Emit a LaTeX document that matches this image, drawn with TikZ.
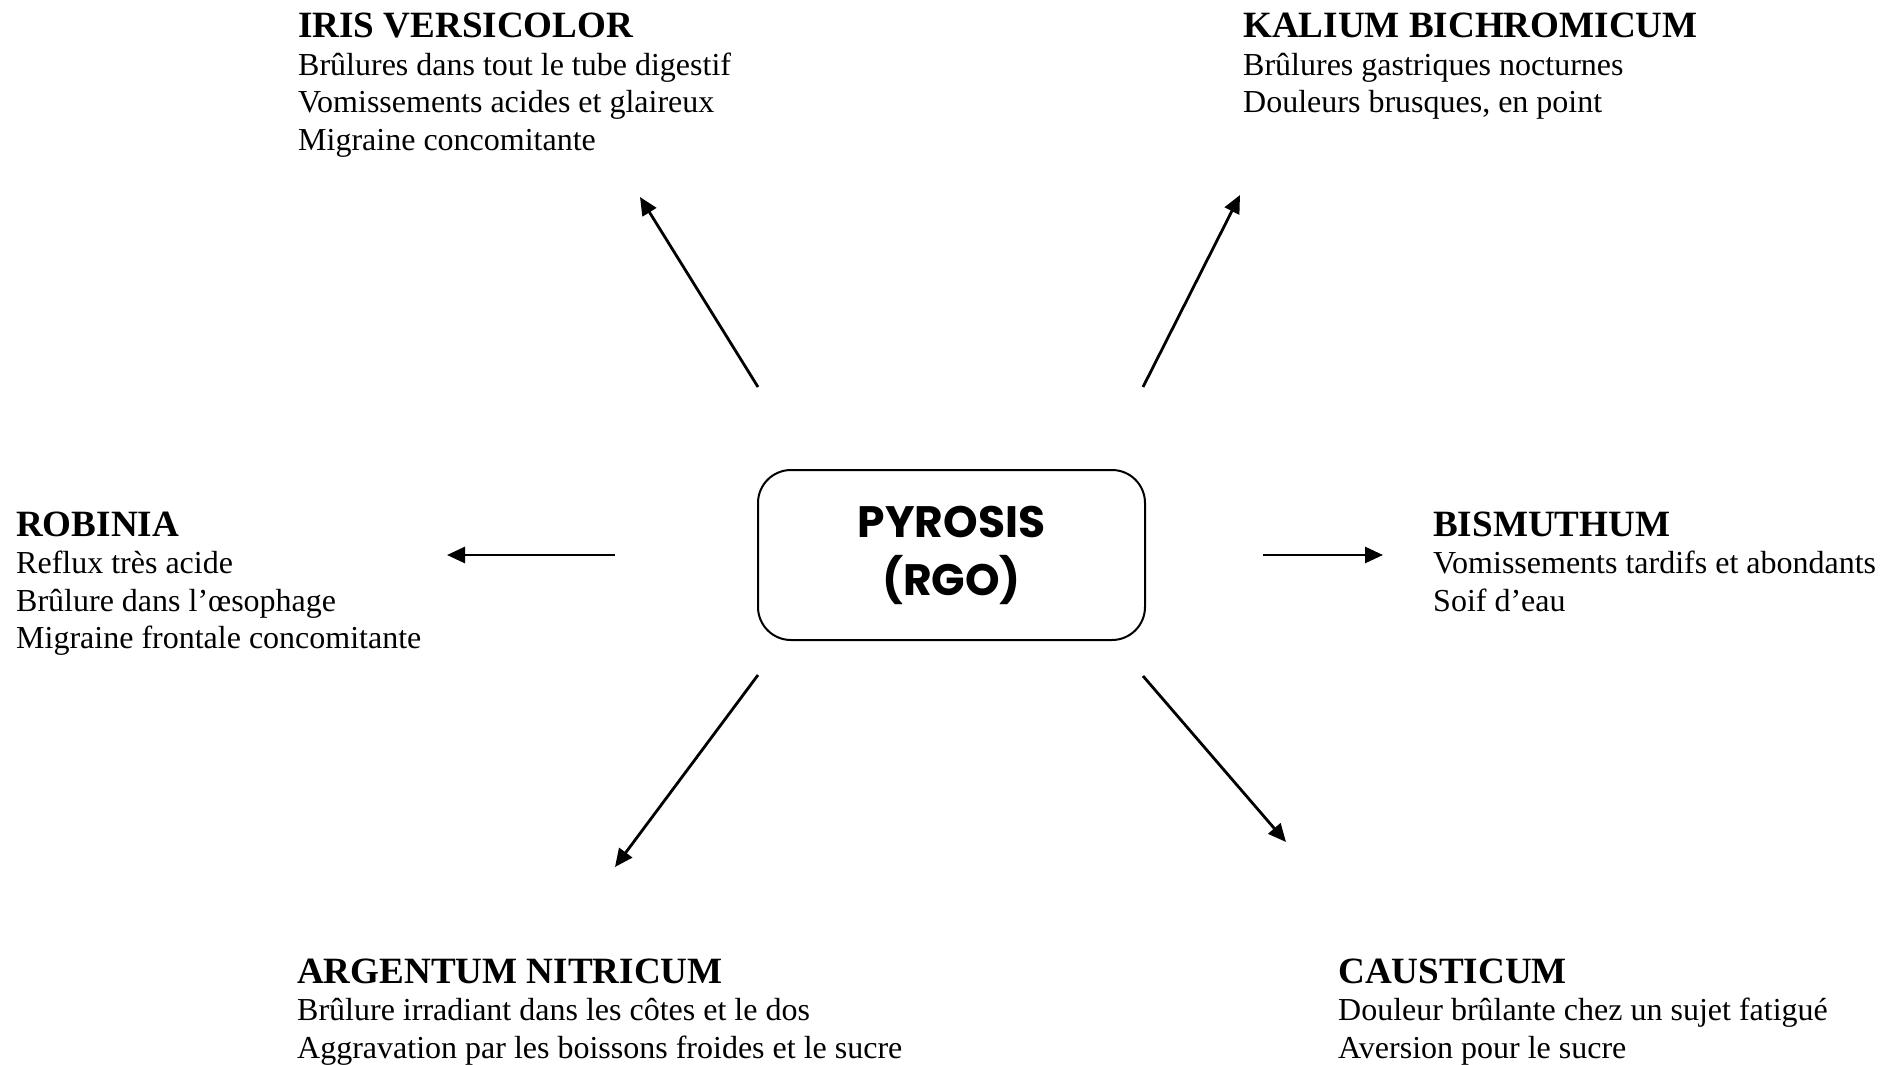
\documentclass[tikz,border=0pt]{standalone}
\usepackage{fontspec}
\setmainfont{Liberation Serif}
\newfontfamily\boxfont{Poppins}
\usetikzlibrary{arrows.meta}
\newcommand{\headf}{\fontsize{37.1}{40}\selectfont\bfseries}
\newcommand{\remedyblock}[2]{\vtop{\baselineskip=37.5pt\lineskiplimit=-60pt\hbox{\headf #1}#2}}
\begin{document}
\begin{tikzpicture}[x=1pt,y=-1pt,
  remedy/.style={anchor=base west, inner sep=0pt, font=\fontsize{32}{37.5}\selectfont},
  link/.style={line width=2.8pt, -{Triangle[length=18pt,width=16pt]}},
  centre/.style={draw, line width=2pt, rounded corners=33pt, minimum width=387pt,
    minimum height=170pt, inner sep=0pt, align=center,
    font=\boxfont\bfseries\fontsize{44}{58}\selectfont}
]
\useasboundingbox (0,0) rectangle (1899,1065);

\node[centre] (pyro) at (951.5,555) {PYROSIS\\(RGO)};

\node[remedy] (iris) at (298,38) {\remedyblock{IRIS VERSICOLOR}{%
  \hbox{Brûlures dans tout le tube digestif}%
  \hbox{Vomissements acides et glaireux}%
  \hbox{Migraine concomitante}}};
\node[remedy] (kalium) at (1243,38) {\remedyblock{KALIUM BICHROMICUM}{%
  \hbox{Brûlures gastriques nocturnes}%
  \hbox{Douleurs brusques, en point}}};
\node[remedy] (robinia) at (16,536) {\remedyblock{ROBINIA}{%
  \hbox{Reflux très acide}%
  \hbox{Brûlure dans l’œsophage}%
  \hbox{Migraine frontale concomitante}}};
\node[remedy] (bismuth) at (1433,536) {\remedyblock{BISMUTHUM}{%
  \hbox{Vomissements tardifs et abondants}%
  \hbox{Soif d’eau}}};
\node[remedy] (argentum) at (297,983) {\remedyblock{ARGENTUM NITRICUM}{%
  \hbox{Brûlure irradiant dans les côtes et le dos}%
  \hbox{Aggravation par les boissons froides et le sucre}}};
\node[remedy] (causticum) at (1338,983) {\remedyblock{CAUSTICUM}{%
  \hbox{Douleur brûlante chez un sujet fatigué}%
  \hbox{Aversion pour le sucre}}};

\coordinate (irisS) at (758,387);   \coordinate (irisT) at (640,197);
\coordinate (kalS) at (1143,387);   \coordinate (kalT) at (1240,195);
\coordinate (robS) at (615,555);    \coordinate (robT) at (447,555);
\coordinate (bisS) at (1263,555);   \coordinate (bisT) at (1383,555);
\coordinate (argS) at (758,675);    \coordinate (argT) at (615,867);
\coordinate (cauS) at (1143,676);   \coordinate (cauT) at (1286,842);

\draw[link] (irisS) -- (irisT);
\draw[link] (kalS) -- (kalT);
\draw[link] (robS) -- (robT);
\draw[link] (bisS) -- (bisT);
\draw[link] (argS) -- (argT);
\draw[link] (cauS) -- (cauT);
\end{tikzpicture}
\end{document}
